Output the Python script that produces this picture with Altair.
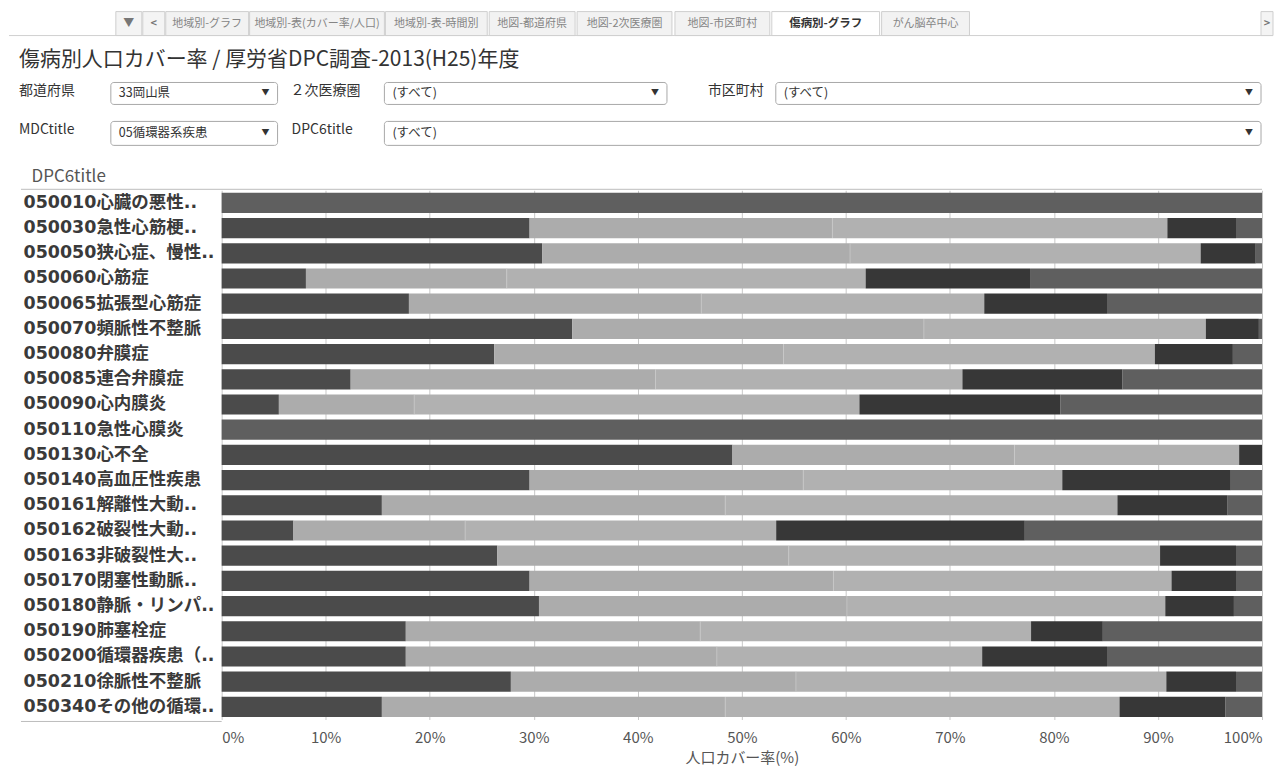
import altair as alt
import pandas as pd

# ---------------- data ----------------
labels = [
    "050010心臓の悪性..", "050030急性心筋梗..", "050050狭心症、慢性..", "050060心筋症",
    "050065拡張型心筋症", "050070頻脈性不整脈", "050080弁膜症", "050085連合弁膜症",
    "050090心内膜炎", "050110急性心膜炎", "050130心不全", "050140高血圧性疾患",
    "050161解離性大動..", "050162破裂性大動..", "050163非破裂性大..", "050170閉塞性動脈..",
    "050180静脈・リンパ..", "050190肺塞栓症", "050200循環器疾患（..", "050210徐脈性不整脈",
    "050340その他の循環..",
]
seg1 = [0, 29.6, 30.8, 8.1, 18.0, 33.7, 26.2, 12.4, 5.5, 0, 49.1, 29.6, 15.4, 6.9, 26.5, 29.6, 30.5, 17.7, 17.7, 27.8, 15.4]
seg2 = [0, 29.1, 29.6, 19.3, 28.1, 33.8, 27.8, 29.3, 13.0, 0, 27.1, 26.3, 33.0, 16.5, 28.0, 29.2, 29.6, 28.3, 29.9, 27.4, 33.0]
seg3 = [0, 32.2, 33.7, 34.5, 27.2, 27.1, 35.7, 29.5, 42.8, 0, 21.6, 24.9, 37.7, 29.9, 35.7, 32.5, 30.6, 31.8, 25.5, 35.6, 37.9]
seg4 = [0, 6.6, 5.3, 15.8, 11.8, 5.1, 7.5, 15.4, 19.3, 0, 2.2, 16.2, 10.6, 23.9, 7.3, 6.2, 6.6, 6.9, 12.0, 6.7, 10.2]
seg5 = [100, 2.5, 0.6, 22.3, 14.9, 0.3, 2.8, 13.4, 19.4, 100, 0, 3.0, 3.3, 22.8, 2.5, 2.5, 2.7, 15.3, 14.9, 2.5, 3.5]
seg_names = ["s1", "s2", "s3", "s4", "s5"]
seg_colors = ["#4b4b4b", "#acacac", "#b1b1b1", "#373737", "#5f5f5f"]
x_ticks = [0, 10, 20, 30, 40, 50, 60, 70, 80, 90, 100]

rows = []
for i, lab in enumerate(labels):
    for k, vals in enumerate([seg1, seg2, seg3, seg4, seg5]):
        rows.append({"label": lab, "seg": seg_names[k], "ord": k, "value": vals[i]})
df = pd.DataFrame(rows)

tick_df = pd.DataFrame([
    {"label": lab, "b": seg1[i] + seg2[i]}
    for i, lab in enumerate(labels) if seg2[i] > 0 and seg3[i] > 0
])

FONT = "Noto Sans CJK JP"
LABEL_FONT = "DejaVu Sans, Noto Sans CJK JP"
OX, OY = 221, 190  # plot origin on the page (used only for UI chrome)

# ---------------- UI chrome (tabs / title / filters) ----------------
tab_names = ["地域別-グラフ", "地域別-表(カバー率/人口)", "地域別-表-時間別", "地図-都道府県",
             "地図-2次医療圏", "地図-市区町村", "傷病別-グラフ", "がん脳卒中心"]
tab_x0 = [165, 249, 385, 489, 577, 675, 772, 882]
tab_x1 = [248, 384, 487, 575, 672, 770, 880, 970]
active_tab = "傷病別-グラフ"

tabs = pd.DataFrame({"t": tab_names, "x0": tab_x0, "x1": tab_x1})
tabs["xa"] = tabs.x0 - OX
tabs["xb"] = tabs.x1 - OX
tabs["xc"] = (tabs.x0 + tabs.x1) / 2 - OX
tabs["ya"] = 11 - OY
tabs["yb"] = 35 - OY
tabs["yc"] = 23 - OY
tabs_in = tabs[tabs.t != active_tab]
tabs_act = tabs[tabs.t == active_tab]


def R(df_, x="xa", x2="xb", y="ya", y2="yb"):
    return dict(
        x=alt.X(f"{x}:Q", scale=None, axis=None),
        x2=alt.X2(f"{x2}:Q"),
        y=alt.Y(f"{y}:Q", scale=None, axis=None),
        y2=alt.Y2(f"{y2}:Q"),
    )


def P(x="x", y="y"):
    return dict(
        x=alt.X(f"{x}:Q", scale=None, axis=None),
        y=alt.Y(f"{y}:Q", scale=None, axis=None),
    )


bg = pd.DataFrame({"xa": [8 - OX], "xb": [1274 - OX], "ya": [8 - OY], "yb": [35 - OY]})
bg_layer = alt.Chart(bg).mark_rect(fill="white").encode(**R(bg))

btns = pd.DataFrame({"xa": [115 - OX, 142 - OX, 1262 - OX], "xb": [141 - OX, 164 - OX, 1274 - OX],
                     "ya": [11 - OY] * 3, "yb": [35 - OY] * 3})
btn_layer = alt.Chart(btns).mark_rect(fill="#f4f4f4", stroke="#cfcfcf", strokeWidth=1).encode(**R(btns))
btn_txt = pd.DataFrame({"x": [128 - OX, 153 - OX, 1268 - OX], "y": [23 - OY] * 3, "t": ["▼", "<", ">"]})
btn_txt_layer = alt.Chart(btn_txt).mark_text(font=FONT, fontSize=11, color="#777", fontWeight="bold").encode(
    text="t:N", **P())

tab_layer = alt.Chart(tabs_in).mark_rect(fill="#f2f2f2", stroke="#cfcfcf", strokeWidth=1).encode(**R(tabs_in))
tab_act_layer = alt.Chart(tabs_act).mark_rect(fill="white", stroke="#cfcfcf", strokeWidth=1).encode(**R(tabs_act))
tab_txt_layer = alt.Chart(tabs_in).mark_text(font=FONT, fontSize=11, color="#858585").encode(
    text="t:N", **P("xc", "yc"))
tab_act_txt_layer = alt.Chart(tabs_act).mark_text(font=FONT, fontSize=11.5, color="#333", fontWeight="bold").encode(
    text="t:N", **P("xc", "yc"))

tab_line = pd.DataFrame({"xa": [8 - OX], "xb": [1274 - OX], "y": [35 - OY]})
tab_line_layer = alt.Chart(tab_line).mark_rule(color="#d0d0d0").encode(
    x=alt.X("xa:Q", scale=None, axis=None), x2="xb:Q", y=alt.Y("y:Q", scale=None, axis=None))

title_df = pd.DataFrame({"x": [18 - OX], "y": [59 - OY], "t": ["傷病別人口カバー率 / 厚労省DPC調査-2013(H25)年度"]})
title_layer = alt.Chart(title_df).mark_text(font=FONT, fontSize=21, color="#333", align="left", baseline="middle").encode(
    text="t:N", **P())

filt_labels = ["都道府県", "２次医療圏", "市区町村", "MDCtitle", "DPC6title"]
filt_lx = [18, 290, 708, 18, 291]
filt_ly = [91, 91, 91, 130, 130]
fl = pd.DataFrame({"t": filt_labels, "x": [v - OX for v in filt_lx], "y": [v - OY for v in filt_ly]})
fl_layer = alt.Chart(fl).mark_text(font=FONT, fontSize=14, color="#333", align="left", baseline="middle").encode(
    text="t:N", **P())

box_vals = ["33岡山県", "(すべて)", "(すべて)", "05循環器系疾患", "(すべて)"]
box_x0 = [110, 384, 776, 110, 384]
box_x1 = [277, 667, 1262, 277, 1262]
box_y0 = [82, 82, 82, 121, 121]
box_y1 = [104, 104, 104, 145, 145]
bx = pd.DataFrame({"t": box_vals,
                   "xa": [v - OX for v in box_x0], "xb": [v - OX for v in box_x1],
                   "ya": [v - OY for v in box_y0], "yb": [v - OY for v in box_y1]})
bx["tx"] = bx.xa + 8
bx["ty"] = (bx.ya + bx.yb) / 2
bx["ax"] = bx.xb - 12
bx["arrow"] = "▼"
box_layer = alt.Chart(bx).mark_rect(fill="white", stroke="#a8a8a8", strokeWidth=1, cornerRadius=3).encode(**R(bx))
box_txt_layer = alt.Chart(bx).mark_text(font=FONT, fontSize=12.5, color="#333", align="left", baseline="middle").encode(
    text="t:N", **P("tx", "ty"))
box_arrow_layer = alt.Chart(bx).mark_text(font=FONT, fontSize=8, color="#333", baseline="middle").encode(
    text="arrow:N", **P("ax", "ty"))

# header borders of the row-label pane
borders = pd.DataFrame({"xa": [20 - OX, 20 - OX], "xb": [1263 - OX, OX - OX], "y": [189 - OY, 722 - OY]})
border_layer = alt.Chart(borders).mark_rule(color="#bdbdbd").encode(
    x=alt.X("xa:Q", scale=None, axis=None), x2="xb:Q", y=alt.Y("y:Q", scale=None, axis=None))

# ---------------- main bar chart ----------------
y_enc = alt.Y(
    "label:N", sort=labels,
    scale=alt.Scale(paddingInner=0.2, paddingOuter=0.1),
    axis=alt.Axis(
        title="DPC6title", titleAngle=0, titleAlign="left", titleBaseline="middle",
        titleX=-191, titleY=-14, titleFont=FONT, titleFontSize=17, titleFontWeight="normal",
        titleColor="#555",
        labelAlign="left", labelPadding=199, labelLimit=198, labelFont=LABEL_FONT, labelFontSize=17.5,
        labelFontWeight="bold", labelColor="#3a3a3a", ticks=False, domain=False,
    ),
)

bars = alt.Chart(df).mark_bar().encode(
    y=y_enc,
    x=alt.X(
        "value:Q", stack="zero", scale=alt.Scale(domain=[0, 100], nice=False),
        axis=alt.Axis(
            values=x_ticks, labelExpr="datum.value + '%'", labelFlush=True,
            labelFont=FONT, labelFontSize=15, labelColor="#555", labelPadding=11,
            grid=True, gridColor="#c8c8c8", domain=False, ticks=False,
            title="人口カバー率(%)", titleFont=FONT, titleFontSize=15, titleFontWeight="normal",
            titleColor="#555", titlePadding=5,
        ),
    ),
    color=alt.Color("seg:N", scale=alt.Scale(domain=seg_names, range=seg_colors), legend=None),
    order=alt.Order("ord:Q"),
)

ticks_layer = alt.Chart(tick_df).mark_tick(thickness=1, size=20, color="#c9c9c9").encode(
    x=alt.X("b:Q"), y=alt.Y("label:N", sort=labels),
)

chart = alt.layer(
    bg_layer, btn_layer, btn_txt_layer, tab_layer, tab_act_layer, tab_txt_layer, tab_act_txt_layer,
    tab_line_layer, title_layer, fl_layer, box_layer, box_txt_layer, box_arrow_layer,
    bars, ticks_layer, border_layer,
).properties(width=1042, height=530, padding=0, background="white").configure_view(stroke=None)

chart.save("out.html", embed_options={"renderer": "svg", "actions": False})
